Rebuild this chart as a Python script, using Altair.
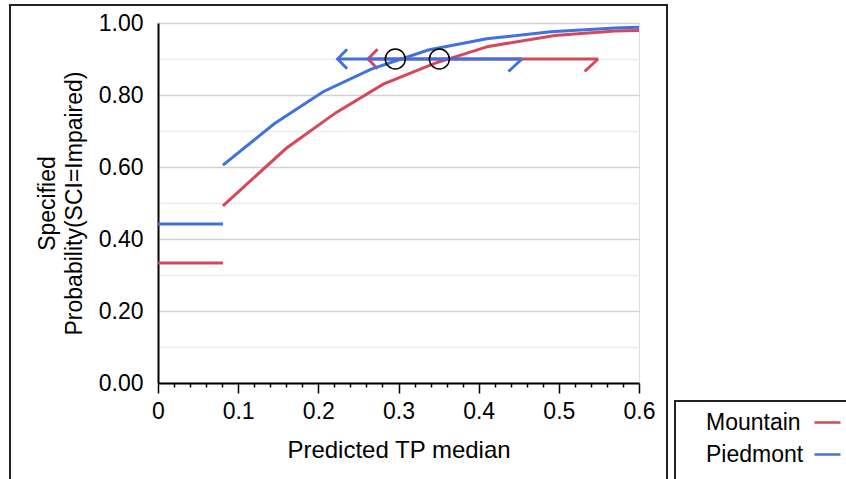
import altair as alt
import pandas as pd

FONT = "Liberation Sans"

series_names = ["Mountain", "Piedmont"]
series_colors = ["#D44958", "#4270DD"]

# flat part below the lowest observed TP
flat_x = [0.0, 0.081]
mountain_flat_y = [0.333, 0.333]
piedmont_flat_y = [0.442, 0.442]

# fitted curves
mountain_x = [0.081, 0.16, 0.222, 0.281, 0.345, 0.412, 0.495, 0.57, 0.60]
mountain_y = [0.492, 0.652, 0.751, 0.830, 0.888, 0.935, 0.965, 0.978, 0.979]
piedmont_x = [0.081, 0.145, 0.206, 0.266, 0.337, 0.41, 0.49, 0.57, 0.60]
piedmont_y = [0.605, 0.720, 0.809, 0.872, 0.925, 0.956, 0.976, 0.986, 0.988]

# inverse prediction at p = 0.9
target_p = 0.9
inv_est = [0.351, 0.296]
inv_lo = [0.262, 0.224]
inv_hi = [0.549, 0.454]

x_ticks = [round(i * 0.02, 2) for i in range(31)]
y_ticks = [round(i * 0.1, 1) for i in range(11)]

rows = []
for name, fy, cx, cy in [
    ("Mountain", mountain_flat_y, mountain_x, mountain_y),
    ("Piedmont", piedmont_flat_y, piedmont_x, piedmont_y),
]:
    for x, y in zip(flat_x, fy):
        rows.append({"series": name, "seg": "flat", "x": x, "y": y})
    for x, y in zip(cx, cy):
        rows.append({"series": name, "seg": "curve", "x": x, "y": y})
lines = pd.DataFrame(rows)

ci = pd.DataFrame({
    "series": series_names,
    "est": inv_est,
    "lo": inv_lo,
    "hi": inv_hi,
    "p": [target_p] * len(series_names),
})
one = pd.DataFrame({"k": [0]})

xs = alt.Scale(domain=[0, 0.6], nice=False, zero=False)
ys = alt.Scale(domain=[0, 1], nice=False)
cs = alt.Scale(domain=series_names, range=series_colors)

x_axis = alt.Axis(
    values=x_ticks,
    title="Predicted TP median",
    labelExpr="(round(datum.value*50) % 5 == 0) ? format(datum.value, '.1~f') : ''",
    tickSize={"condition": {"test": "round(datum.value*50) % 5 != 0", "value": 4}, "value": 10},
    tickColor="black", tickWidth=1.5,
    domainColor="black", domainWidth=2,
    grid=False,
    labelFont=FONT, labelFontSize=23, labelColor="black",
    labelPadding=7, labelFlush=False, labelOverlap=False,
    titleFont=FONT, titleFontSize=24, titleFontWeight="normal", titleColor="black",
    titlePadding=15,
)
y_axis = alt.Axis(
    values=y_ticks,
    title=["Specified", "Probability(SCI=Impaired)"],
    labelExpr="(round(datum.value*10) % 2 == 0) ? format(datum.value, '.2f') : ''",
    ticks=False, tickSize=0,
    domainColor="black", domainWidth=2,
    grid=True,
    gridColor={"condition": {"test": "round(datum.value*10) % 2 == 0", "value": "#d2d2d2"}, "value": "#ececec"},
    gridWidth=1.5,
    labelFont=FONT, labelFontSize=23, labelColor="black",
    labelPadding=15, labelFlush=False, labelOverlap=False,
    titleFont=FONT, titleFontSize=23, titleFontWeight="normal", titleColor="black",
    titlePadding=12, titleLineHeight=27,
)

legend = alt.Legend(
    title=None, orient="none", legendX=517, legendY=385, direction="vertical",
    symbolType="stroke", symbolSize=676, symbolStrokeWidth=2.5,
    symbolOffset=138, labelOffset={"expr": "-136"},
    labelFont=FONT, labelFontSize=23, labelColor="black",
    padding=0, rowPadding=5,
)

outer_frame = alt.Chart(one).mark_rect(fill="transparent", stroke="#222", strokeWidth=2).encode(
    x=alt.value(-148), x2=alt.value(509), y=alt.value(-18), y2=alt.value(470)
)
legend_box = alt.Chart(one).mark_rect(fill="transparent", stroke="#222", strokeWidth=2).encode(
    x=alt.value(517), x2=alt.value(720), y=alt.value(378), y2=alt.value(470)
)

base_line = alt.Chart(lines).mark_line(strokeWidth=3).encode(
    x=alt.X("x:Q", scale=xs, axis=x_axis),
    y=alt.Y("y:Q", scale=ys, axis=y_axis),
    color=alt.Color("series:N", scale=cs, legend=legend),
    detail="seg:N",
)

LEFT = "M0.95,-0.97L0,0L0.95,0.97"
RIGHT = "M0,0L-1.35,1.25"


def ci_layers(name, col):
    d = alt.Chart(ci).transform_filter(alt.datum.series == name)
    rule = d.mark_rule(strokeWidth=3, color=col).encode(
        x=alt.X("lo:Q", scale=xs, axis=x_axis),
        x2="hi:Q",
        y=alt.Y("p:Q", scale=ys, axis=y_axis),
    )
    left = d.mark_point(shape=LEFT, size=400, filled=False, stroke=col, strokeWidth=3, opacity=1).encode(
        x=alt.X("lo:Q", scale=xs, axis=x_axis),
        y=alt.Y("p:Q", scale=ys, axis=y_axis),
    )
    right = d.mark_point(shape=RIGHT, size=400, filled=False, stroke=col, strokeWidth=3, opacity=1).encode(
        x=alt.X("hi:Q", scale=xs, axis=x_axis),
        y=alt.Y("p:Q", scale=ys, axis=y_axis),
    )
    return [rule, left, right]


circles = alt.Chart(ci).mark_point(
    shape="circle", size=400, filled=False, stroke="black", strokeWidth=1.5, opacity=1
).encode(
    x=alt.X("est:Q", scale=xs, axis=x_axis),
    y=alt.Y("p:Q", scale=ys, axis=y_axis),
)

layers = [outer_frame, legend_box]
layers.append(base_line.transform_filter(alt.datum.series == "Mountain"))
layers += ci_layers("Mountain", series_colors[0])
layers.append(base_line.transform_filter(alt.datum.series == "Piedmont"))
layers += ci_layers("Piedmont", series_colors[1])
layers.append(circles)

chart = alt.layer(*layers).properties(
    width=481,
    height=360,
    autosize=alt.AutoSizeParams(type="none"),
    padding={"left": 158, "top": 23, "right": 207, "bottom": 96},
    background="white",
).configure_view(stroke="black", strokeWidth=2).configure(font=FONT)

chart.save("out.html", embed_options={"renderer": "svg", "actions": False})
